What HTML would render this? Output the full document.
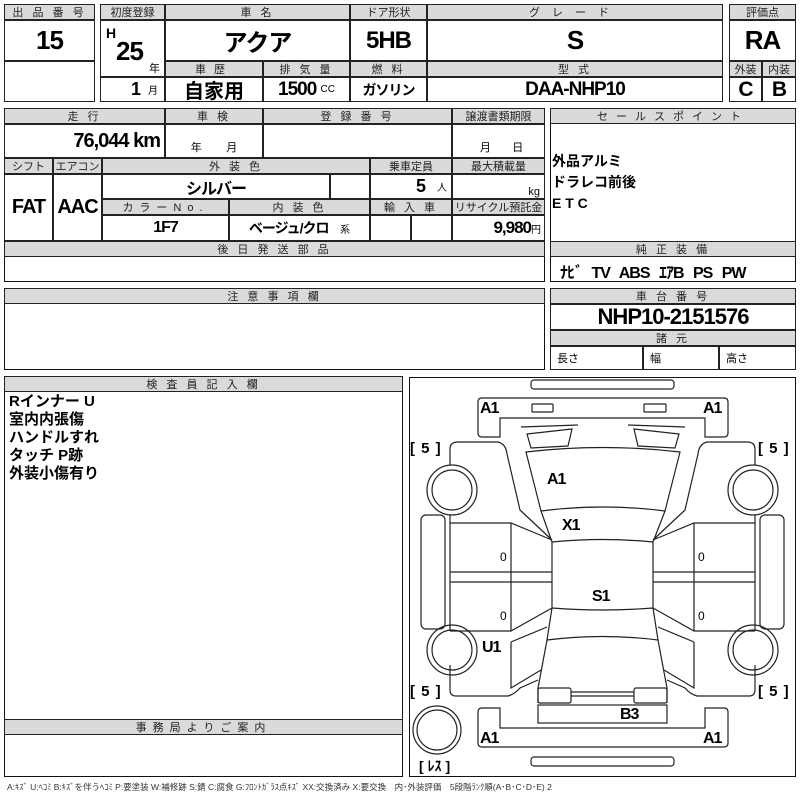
<!DOCTYPE html>
<html><head><meta charset="utf-8"><style>
*{margin:0;padding:0;box-sizing:border-box}
body{width:800px;height:800px;background:#fff;position:relative;overflow:hidden;font-family:"Liberation Sans","Noto Sans CJK JP",sans-serif;color:#000}
.c{position:absolute;border:1px solid #222;display:flex;align-items:center;justify-content:center;white-space:nowrap}
.h{background:#dadada;font-size:11px;letter-spacing:3px;color:#222}
.o{position:absolute;border:1.5px solid #111}
.v{font-family:"Liberation Sans Narrow","Liberation Sans","Noto Sans CJK JP",sans-serif;font-weight:bold;letter-spacing:-1px}
.s{font-size:10px;font-weight:normal;letter-spacing:0}
</style></head><body>
<!-- top -->
<div class="o" style="left:4px;top:4px;width:91px;height:98px"></div>
<div class="c h" style="left:4px;top:4px;width:91px;height:16px">出 品 番 号</div>
<div class="c v" style="left:4px;top:20px;width:91px;height:41px;font-size:26px">15</div>
<div class="c" style="left:4px;top:61px;width:91px;height:41px"></div>

<div class="o" style="left:100px;top:4px;width:623px;height:98px"></div>
<div class="c h" style="left:100px;top:4px;width:65px;height:16px;letter-spacing:0">初度登録</div>
<div class="c h" style="left:165px;top:4px;width:185px;height:16px">車 名</div>
<div class="c h" style="left:350px;top:4px;width:77px;height:16px;letter-spacing:0">ドア形状</div>
<div class="c h" style="left:427px;top:4px;width:296px;height:16px;letter-spacing:12px">グレード</div>
<div class="c" style="left:100px;top:20px;width:65px;height:57px"></div>
<div class="v" style="position:absolute;left:106px;top:25px;font-size:14px">H</div>
<div class="v" style="position:absolute;left:116px;top:36px;font-size:26px">25</div>
<div style="position:absolute;left:149px;top:60px;font-size:11px">年</div>
<div class="c v" style="left:165px;top:20px;width:185px;height:41px;font-size:24px">アクア</div>
<div class="c v" style="left:350px;top:20px;width:77px;height:41px;font-size:24px">5HB</div>
<div class="c v" style="left:427px;top:20px;width:296px;height:41px;font-size:26px">S</div>
<div class="c h" style="left:165px;top:61px;width:98px;height:16px;letter-spacing:8px">車歴</div>
<div class="c h" style="left:263px;top:61px;width:87px;height:16px">排 気 量</div>
<div class="c h" style="left:350px;top:61px;width:77px;height:16px">燃 料</div>
<div class="c h" style="left:427px;top:61px;width:296px;height:16px">型 式</div>
<div class="c v" style="left:100px;top:77px;width:65px;height:25px;font-size:18px;justify-content:flex-end;padding-right:6px">1&nbsp;&nbsp;<span class="s">月</span></div>
<div class="c" style="left:165px;top:77px;width:98px;height:25px;font-size:20px;font-weight:bold">自家用</div>
<div class="c v" style="left:263px;top:77px;width:87px;height:25px;font-size:19px">1500&nbsp;<span class="s">CC</span></div>
<div class="c v" style="left:350px;top:77px;width:77px;height:25px;font-size:14px">ガソリン</div>
<div class="c v" style="left:427px;top:77px;width:296px;height:25px;font-size:19px">DAA-NHP10</div>

<div class="o" style="left:729px;top:4px;width:67px;height:98px"></div>
<div class="c h" style="left:729px;top:4px;width:67px;height:16px;letter-spacing:0">評価点</div>
<div class="c v" style="left:729px;top:20px;width:67px;height:41px;font-size:26px">RA</div>
<div class="c h" style="left:729px;top:61px;width:33px;height:16px;letter-spacing:0">外装</div>
<div class="c h" style="left:762px;top:61px;width:34px;height:16px;letter-spacing:0">内装</div>
<div class="c v" style="left:729px;top:77px;width:33px;height:25px;font-size:21px">C</div>
<div class="c v" style="left:762px;top:77px;width:34px;height:25px;font-size:21px">B</div>

<!-- second -->
<div class="o" style="left:4px;top:108px;width:541px;height:174px"></div>
<div class="c h" style="left:4px;top:108px;width:161px;height:16px">走 行</div>
<div class="c h" style="left:165px;top:108px;width:98px;height:16px">車 検</div>
<div class="c h" style="left:263px;top:108px;width:189px;height:16px">登 録 番 号</div>
<div class="c h" style="left:452px;top:108px;width:93px;height:16px;letter-spacing:0">譲渡書類期限</div>
<div class="c v" style="left:4px;top:124px;width:161px;height:34px;font-size:20px;justify-content:flex-end;padding-right:4px">76,044 km</div>
<div class="c" style="left:165px;top:124px;width:98px;height:34px;font-size:11px;align-items:flex-end;padding-bottom:2px">年&nbsp;&nbsp;&nbsp;&nbsp;&nbsp;&nbsp;&nbsp;&nbsp;月</div>
<div class="c" style="left:263px;top:124px;width:189px;height:34px"></div>
<div class="c" style="left:452px;top:124px;width:93px;height:34px;font-size:11px;align-items:flex-end;padding-bottom:2px">&nbsp;&nbsp;月&nbsp;&nbsp;&nbsp;&nbsp;&nbsp;&nbsp;&nbsp;日</div>
<div class="c h" style="left:4px;top:158px;width:49px;height:16px;letter-spacing:0">シフト</div>
<div class="c h" style="left:53px;top:158px;width:49px;height:16px;letter-spacing:0">エアコン</div>
<div class="c h" style="left:102px;top:158px;width:268px;height:16px">外 装 色</div>
<div class="c h" style="left:370px;top:158px;width:82px;height:16px;letter-spacing:0">乗車定員</div>
<div class="c h" style="left:452px;top:158px;width:93px;height:16px;letter-spacing:0">最大積載量</div>
<div class="c v" style="left:4px;top:174px;width:49px;height:67px;font-size:20px">FAT</div>
<div class="c v" style="left:53px;top:174px;width:49px;height:67px;font-size:20px">AAC</div>
<div class="c v" style="left:102px;top:174px;width:228px;height:25px;font-size:16px">シルバー</div>
<div class="c" style="left:330px;top:174px;width:40px;height:25px"></div>
<div class="c v" style="left:370px;top:174px;width:82px;height:25px;font-size:18px;justify-content:flex-end;padding-right:4px">5&nbsp;&nbsp;&nbsp;<span class="s">人</span></div>
<div class="c" style="left:452px;top:174px;width:93px;height:25px;font-size:11px;justify-content:flex-end;padding-right:4px;align-items:flex-end">kg</div>
<div class="c h" style="left:102px;top:199px;width:127px;height:16px;letter-spacing:6px">カラーNo.</div>
<div class="c h" style="left:229px;top:199px;width:141px;height:16px">内 装 色</div>
<div class="c h" style="left:370px;top:199px;width:82px;height:16px">輸 入 車</div>
<div class="c h" style="left:452px;top:199px;width:93px;height:16px;letter-spacing:0">リサイクル預託金</div>
<div class="c v" style="left:102px;top:215px;width:127px;height:26px;font-size:16px">1F7</div>
<div class="c v" style="left:229px;top:215px;width:141px;height:26px;font-size:14px">ベージュ/クロ&nbsp;&nbsp;&nbsp;&nbsp;<span class="s">系</span></div>
<div class="c" style="left:370px;top:215px;width:41px;height:26px"></div>
<div class="c" style="left:411px;top:215px;width:41px;height:26px"></div>
<div class="c v" style="left:452px;top:215px;width:93px;height:26px;font-size:17px;justify-content:flex-end;padding-right:3px">9,980<span class="s">円</span></div>
<div class="c h" style="left:4px;top:241px;width:541px;height:16px">後 日 発 送 部 品</div>

<div class="o" style="left:550px;top:108px;width:246px;height:174px"></div>
<div class="c h" style="left:550px;top:108px;width:246px;height:16px;letter-spacing:8px">セールスポイント</div>
<div style="position:absolute;left:552px;top:151px;font-size:14px;font-weight:bold;line-height:21px">外品アルミ<br>ドラレコ前後<br>E T C</div>
<div class="c h" style="left:550px;top:241px;width:246px;height:16px">純 正 装 備</div>
<div class="v" style="position:absolute;left:560px;top:259px;font-size:16px;word-spacing:6px">ﾅﾋﾞ TV ABS ｴｱB PS PW</div>

<!-- third -->
<div class="o" style="left:4px;top:288px;width:541px;height:82px"></div>
<div class="c h" style="left:4px;top:288px;width:541px;height:16px">注 意 事 項 欄</div>
<div class="o" style="left:550px;top:288px;width:246px;height:82px"></div>
<div class="c h" style="left:550px;top:288px;width:246px;height:16px">車 台 番 号</div>
<div class="c v" style="left:550px;top:304px;width:246px;height:26px;font-size:22px">NHP10-2151576</div>
<div class="c h" style="left:550px;top:330px;width:246px;height:16px">諸 元</div>
<div class="c" style="left:550px;top:346px;width:93px;height:24px;font-size:11px;justify-content:flex-start;padding-left:6px">長さ</div>
<div class="c" style="left:643px;top:346px;width:76px;height:24px;font-size:11px;justify-content:flex-start;padding-left:6px">幅</div>
<div class="c" style="left:719px;top:346px;width:77px;height:24px;font-size:11px;justify-content:flex-start;padding-left:6px">高さ</div>

<!-- inspector -->
<div class="o" style="left:4px;top:376px;width:399px;height:401px"></div>
<div class="c h" style="left:4px;top:376px;width:399px;height:16px">検 査 員 記 入 欄</div>
<div style="position:absolute;left:9px;top:393px;font-size:15px;font-weight:bold;line-height:18px">Rインナー U<br>室内内張傷<br>ハンドルすれ<br>タッチ P跡<br>外装小傷有り</div>
<div class="c h" style="left:4px;top:719px;width:399px;height:16px;letter-spacing:6px">事務局よりご案内</div>

<!-- diagram -->
<div class="o" style="left:409px;top:377px;width:387px;height:400px"></div>
<svg style="position:absolute;left:0;top:0" width="800" height="800" fill="none" stroke="#222" stroke-width="1.2">
<rect x="531" y="380" width="143" height="9" rx="3"/>
<rect x="531" y="757" width="143" height="9" rx="3"/>
<path d="M500,437 L482,437 Q478,437 478,433 L478,402 Q478,398 482,398 L724,398 Q728,398 728,402 L728,433 Q728,437 724,437 L705,437 L705,418 L500,418 Z"/>
<path d="M500,708 L482,708 Q478,708 478,712 L478,743 Q478,747 482,747 L724,747 Q728,747 728,743 L728,712 Q728,708 724,708 L705,708 L705,728 L500,728 Z"/>
<rect x="532" y="404" width="21" height="8" rx="1"/><rect x="644" y="404" width="22" height="8" rx="1"/>
<path d="M521,427 L578,425 M527,434 L572,429 L568,446 L531,448 Z M685,427 L628,425 M679,434 L634,429 L638,446 L675,448 Z"/>
<path d="M526,452 Q603,443 680,452 L665,511 Q603,503 541,511 Z"/>
<path d="M541,511 L552,542 Q603,537 653,542 L665,511"/>
<path d="M552,542 L552,608 Q603,612 653,608 L653,542"/>
<path d="M552,608 L547,640 Q603,633 658,640 L653,608"/>
<path d="M547,640 L538,688 L538,703 M658,640 L667,688 L667,703"/>
<rect x="538" y="688" width="33" height="15" rx="2"/><rect x="634" y="688" width="33" height="15" rx="2"/>
<path d="M571,696 L634,696 M571,692 L634,692"/>
<rect x="538" y="705" width="129" height="18"/>
<rect x="421" y="515" width="24" height="114" rx="5"/><rect x="760" y="515" width="24" height="114" rx="5"/>
<circle cx="452" cy="490" r="25"/><circle cx="452" cy="490" r="20"/>
<circle cx="452" cy="650" r="25"/><circle cx="452" cy="650" r="20"/>
<circle cx="753" cy="490" r="25"/><circle cx="753" cy="490" r="20"/>
<circle cx="753" cy="650" r="25"/><circle cx="753" cy="650" r="20"/>
<circle cx="437" cy="730" r="24"/><circle cx="437" cy="730" r="20"/>
<path d="M450,465 L450,449 Q450,442 458,442 L498,442 Q506,444 507,454 L520,510 L552,540"/>
<path d="M450,515 L450,631 M450,523 L511,523 L552,540 M511,523 L511,631 M450,572 L552,572 M450,582 L552,582 M450,631 L511,631 L552,608"/>
<path d="M511,642 L547,627 M511,642 L511,688 L541,670 M450,665 L450,690 Q450,696 456,696 L508,696 Q515,694 520,688 L538,680"/>
<path d="M755,465 L755,449 Q755,442 747,442 L707,442 Q699,444 698,454 L685,510 L653,540"/>
<path d="M755,515 L755,631 M755,523 L694,523 L653,540 M694,523 L694,631 M755,572 L653,572 M755,582 L653,582 M755,631 L694,631 L653,608"/>
<path d="M694,642 L658,627 M694,642 L694,688 L664,670 M755,665 L755,690 Q755,696 749,696 L697,696 Q690,694 685,688 L667,680"/>
</svg>
<div class="v" style="position:absolute;font-size:16px;left:480px;top:400px">A1</div>
<div class="v" style="position:absolute;font-size:16px;left:703px;top:400px">A1</div>
<div class="v" style="position:absolute;font-size:16px;left:547px;top:471px">A1</div>
<div class="v" style="position:absolute;font-size:16px;left:562px;top:517px">X1</div>
<div class="v" style="position:absolute;font-size:16px;left:592px;top:588px">S1</div>
<div class="v" style="position:absolute;font-size:16px;left:482px;top:639px">U1</div>
<div class="v" style="position:absolute;font-size:16px;left:620px;top:706px">B3</div>
<div class="v" style="position:absolute;font-size:16px;left:480px;top:730px">A1</div>
<div class="v" style="position:absolute;font-size:16px;left:703px;top:730px">A1</div>
<div style="position:absolute;font-size:15px;font-weight:bold;left:410px;top:440px;word-spacing:2px">[ 5 ]</div>
<div style="position:absolute;font-size:15px;font-weight:bold;left:758px;top:440px;word-spacing:2px">[ 5 ]</div>
<div style="position:absolute;font-size:15px;font-weight:bold;left:410px;top:683px;word-spacing:2px">[ 5 ]</div>
<div style="position:absolute;font-size:15px;font-weight:bold;left:758px;top:683px;word-spacing:2px">[ 5 ]</div>
<div style="position:absolute;font-size:14px;font-weight:bold;left:419px;top:756px">[ ﾚｽ ]</div>
<div style="position:absolute;font-size:12px;left:500px;top:550px">0</div>
<div style="position:absolute;font-size:12px;left:500px;top:609px">0</div>
<div style="position:absolute;font-size:12px;left:698px;top:550px">0</div>
<div style="position:absolute;font-size:12px;left:698px;top:609px">0</div>
<div style="position:absolute;left:7px;top:781px;font-size:8.5px;color:#333;white-space:nowrap">A:ｷｽﾞ U:ﾍｺﾐ B:ｷｽﾞを伴うﾍｺﾐ P:要塗装 W:補修跡 S:錆 C:腐食 G:ﾌﾛﾝﾄｶﾞﾗｽ点ｷｽﾞ XX:交換済み X:要交換　内･外装評価　5段階ﾗﾝｸ順(A･B･C･D･E) 2</div>
</body></html>
